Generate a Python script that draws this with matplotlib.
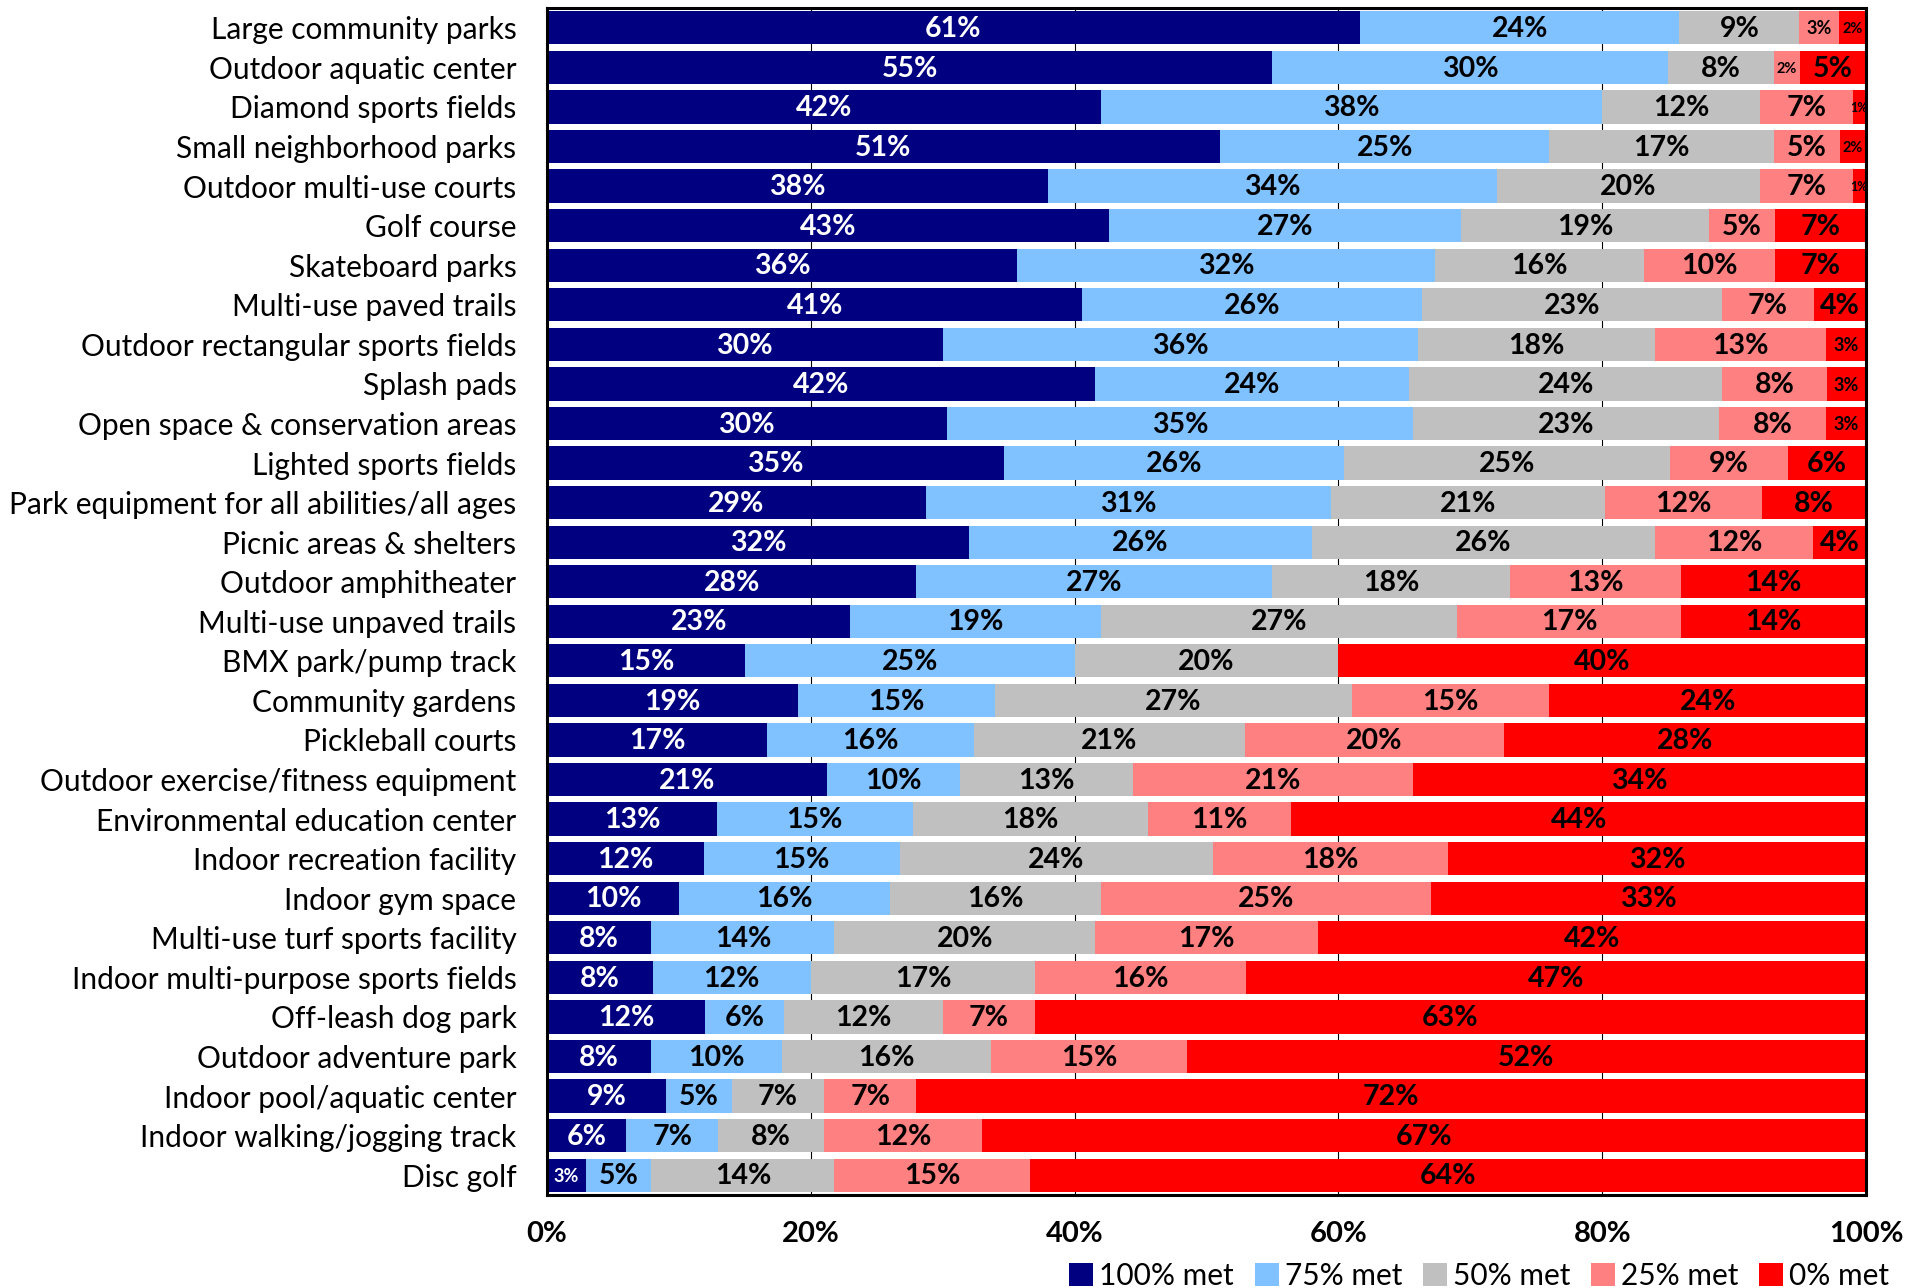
"""Stacked horizontal bars: share of need met per amenity."""

from matplotlib import pyplot as plt
from matplotlib.patches import Patch

CATEGORIES = [
    "Large community parks",
    "Outdoor aquatic center",
    "Diamond sports fields",
    "Small neighborhood parks",
    "Outdoor multi-use courts",
    "Golf course",
    "Skateboard parks",
    "Multi-use paved trails",
    "Outdoor rectangular sports fields",
    "Splash pads",
    "Open space & conservation areas",
    "Lighted sports fields",
    "Park equipment for all abilities/all ages",
    "Picnic areas & shelters",
    "Outdoor amphitheater",
    "Multi-use unpaved trails",
    "BMX park/pump track",
    "Community gardens",
    "Pickleball courts",
    "Outdoor exercise/fitness equipment",
    "Environmental education center",
    "Indoor recreation facility",
    "Indoor gym space",
    "Multi-use turf sports facility",
    "Indoor multi-purpose sports fields",
    "Off-leash dog park",
    "Outdoor adventure park",
    "Indoor pool/aquatic center",
    "Indoor walking/jogging track",
    "Disc golf",
]

SERIES = ["100% met", "75% met", "50% met", "25% met", "0% met"]

MET_100 = [61, 55, 42, 51, 38, 43, 36, 41, 30, 42, 30, 35, 29, 32, 28,
           23, 15, 19, 17, 21, 13, 12, 10, 8, 8, 12, 8, 9, 6, 3]
MET_75 = [24, 30, 38, 25, 34, 27, 32, 26, 36, 24, 35, 26, 31, 26, 27,
          19, 25, 15, 16, 10, 15, 15, 16, 14, 12, 6, 10, 5, 7, 5]
MET_50 = [9, 8, 12, 17, 20, 19, 16, 23, 18, 24, 23, 25, 21, 26, 18,
          27, 20, 27, 21, 13, 18, 24, 16, 20, 17, 12, 16, 7, 8, 14]
MET_25 = [3, 2, 7, 5, 7, 5, 10, 7, 13, 8, 8, 9, 12, 12, 13,
          17, 0, 15, 20, 21, 11, 18, 25, 17, 16, 7, 15, 7, 12, 15]
MET_0 = [2, 5, 1, 2, 1, 7, 7, 4, 3, 3, 3, 6, 8, 4, 14,
         14, 40, 24, 28, 34, 44, 32, 33, 42, 47, 63, 52, 72, 67, 64]

COLORS = ["#000080", "#80C1FF", "#C0C0C0", "#FF8080", "#FF0000"]
TEXT_COLORS = ["white", "black", "black", "black", "black"]

LABEL_FONT = ["Lato", "DejaVu Sans"]
NARROW_FONT = ["Liberation Sans Narrow", "Lato", "DejaVu Sans"]


def label_size(value: int) -> float:
    """Tiny slices get smaller labels, as in the source chart."""
    if value <= 1:
        return 9
    if value == 2:
        return 10.5
    if value == 3:
        return 13
    return 20.5


def main() -> None:
    fig = plt.figure(figsize=(19.21, 12.88), dpi=100)
    ax = fig.add_axes([547 / 1921, 93 / 1288, 1319 / 1921, 1187 / 1288])

    series_values = [MET_100, MET_75, MET_50, MET_25, MET_0]
    rows = list(zip(*series_values))
    totals = [sum(row) for row in rows]
    y_positions = list(range(len(CATEGORIES)))

    lefts = [0.0] * len(CATEGORIES)
    for idx, values in enumerate(series_values):
        widths = [v / t * 100 for v, t in zip(values, totals)]
        ax.barh(y_positions, widths, left=lefts, height=0.84,
                color=COLORS[idx], edgecolor="none", zorder=2)
        for y, v, w, left in zip(y_positions, values, widths, lefts):
            if v <= 0:
                continue
            ax.text(left + w / 2, y + 0.03, f"{v}%", ha="center", va="center",
                    color=TEXT_COLORS[idx], fontsize=label_size(v),
                    fontweight="bold", family=LABEL_FONT, zorder=3)
        lefts = [left + w for left, w in zip(lefts, widths)]

    ax.set_xlim(0, 100)
    ax.set_ylim(len(CATEGORIES) - 0.5, -0.5)
    ax.set_yticks(y_positions)
    ax.set_yticklabels(CATEGORIES, family=LABEL_FONT, fontsize=21.5)
    ax.set_xticks([0, 20, 40, 60, 80, 100])
    ax.set_xticklabels([f"{t}%" for t in range(0, 101, 20)],
                       family=NARROW_FONT, fontsize=21, fontweight="bold")
    ax.tick_params(axis="both", length=0)
    ax.tick_params(axis="y", pad=22)
    ax.tick_params(axis="x", pad=19)
    for x in (20, 40, 60, 80):
        ax.axvline(x, color="black", linewidth=0.8, zorder=1)
    for spine in ax.spines.values():
        spine.set_linewidth(2.2)
        spine.set_color("black")
        spine.set_zorder(4)

    handles = [Patch(facecolor=c, edgecolor="none", label=s)
               for c, s in zip(COLORS, SERIES)]
    fig.legend(handles=handles, loc="lower right",
               bbox_to_anchor=(1892 / 1921, -0.004), ncol=5, frameon=False,
               handlelength=0.8, handleheight=0.8, handletextpad=0.2,
               columnspacing=0.7, borderaxespad=0.0, borderpad=0.1,
               prop={"family": NARROW_FONT, "size": 21.5})

    fig.savefig("out.png", dpi=100)
    plt.close(fig)


if __name__ == "__main__":
    main()
